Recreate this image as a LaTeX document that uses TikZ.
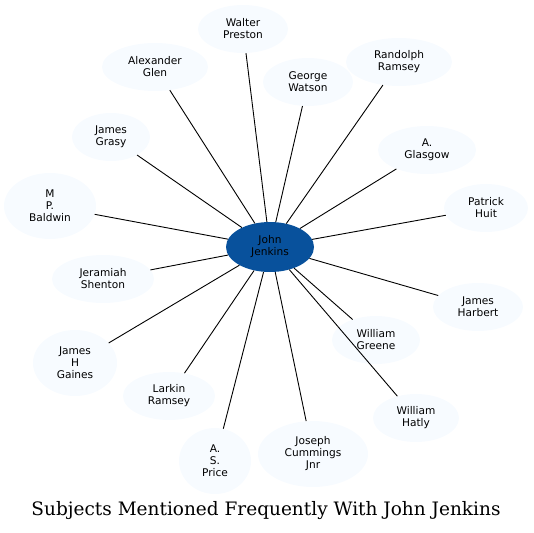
\documentclass[tikz,border=0pt]{standalone}
\usepackage{fontspec}
\setsansfont{DejaVu Sans}
\newfontfamily\titlefont{DejaVu Serif}
\usetikzlibrary{shapes.geometric}
\definecolor{hubblue}{HTML}{08519C}
\definecolor{subjfill}{HTML}{F7FBFF}
\tikzset{
  subj/.style={ellipse,fill=subjfill,inner sep=0pt,minimum height=48pt,align=center,
    font=\sffamily\fontsize{10.6}{12}\selectfont},
  tall/.style={minimum height=66pt},
  hub/.style={subj,fill=hubblue,minimum width=88pt,minimum height=50pt},
  edge/.style={draw=black,line width=0.9pt}
}
\begin{document}
\begin{tikzpicture}[x=1pt,y=-1pt]
\useasboundingbox (0,0) rectangle (534,532);
\node[hub] (jj) at (270,247) {John\\Jenkins};
% outer ring of subjects
\node[subj,minimum width=90pt] (wp) at (243,29) {Walter\\Preston};
\node[subj,minimum width=106pt] (ag) at (155,67) {Alexander\\Glen};
\node[subj,minimum width=90pt] (gw) at (308,82) {George\\Watson};
\node[subj,minimum width=106pt] (rr) at (399,62) {Randolph\\Ramsey};
\node[subj,minimum width=78pt] (jg) at (111,137) {James\\Grasy};
\node[subj,minimum width=98pt] (agl) at (427,150) {A.\\Glasgow};
\node[subj,tall,minimum width=92pt] (mpb) at (50,206) {M\\P.\\Baldwin};
\node[subj,minimum width=84pt] (ph) at (486,208) {Patrick\\Huit};
\node[subj,minimum width=102pt] (js) at (103,279) {Jeramiah\\Shenton};
\node[subj,minimum width=90pt] (jh) at (478,307) {James\\Harbert};
\node[subj,minimum width=88pt] (wg) at (376,340) {William\\Greene};
\node[subj,tall,minimum width=84pt] (jhg) at (75,363) {James\\H\\Gaines};
\node[subj,minimum width=92pt] (lr) at (169,396) {Larkin\\Ramsey};
\node[subj,minimum width=86pt] (wh) at (416,418) {William\\Hatly};
\node[subj,tall,minimum width=72pt] (asp) at (215,461) {A.\\S.\\Price};
\node[subj,tall,minimum width=110pt] (jcj) at (313,454) {Joseph\\Cummings\\Jnr};
\foreach \n in {wp,ag,gw,rr,jg,agl,mpb,ph,js,jh,wg,jhg,lr,wh,asp,jcj}
  \draw[edge] (jj) -- (\n);
\node[font=\titlefont\fontsize{18.5}{22}\selectfont] (title) at (266,511) {Subjects Mentioned Frequently With John Jenkins};
\end{tikzpicture}
\end{document}
